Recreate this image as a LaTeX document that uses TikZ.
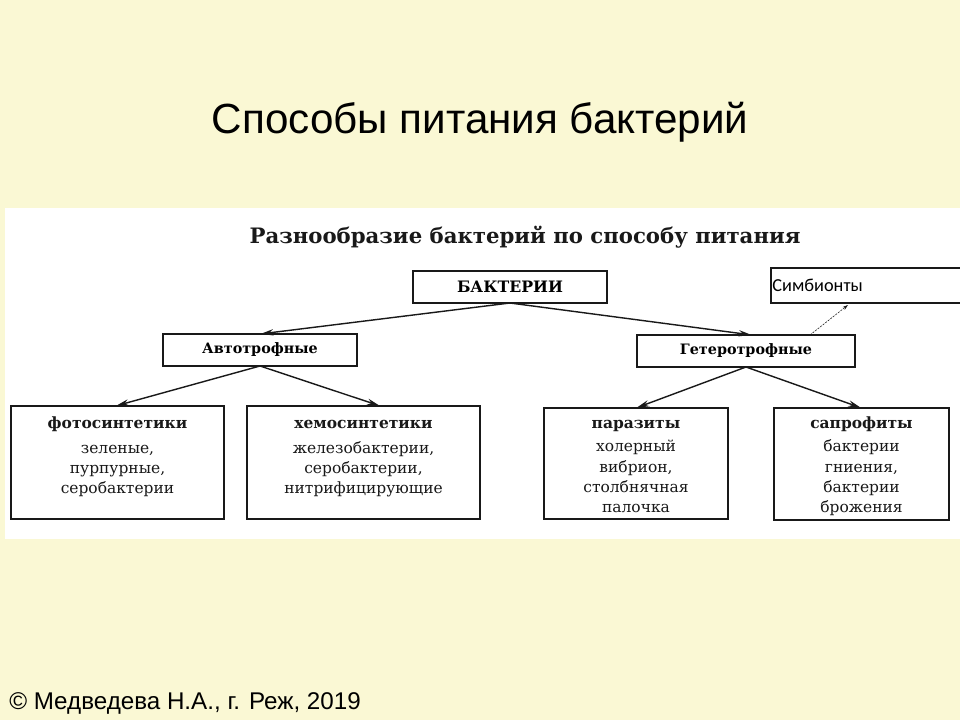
\documentclass[tikz,border=0pt]{standalone}
\usepackage{fontspec}
\setmainfont{DejaVu Serif}
\newfontfamily\titlefont{Liberation Sans}
\newfontfamily\notefont{Carlito}
\usetikzlibrary{arrows.meta,positioning}
\definecolor{slidebg}{RGB}{250,248,212}
\definecolor{inkblack}{RGB}{25,25,25}

\begin{document}
\begin{tikzpicture}[x=0.025cm, y=-0.025cm,
  box/.style={draw=inkblack, line width=1.2pt, fill=white, inner sep=0pt, outer sep=0pt},
  boxtext/.style={align=center, inner sep=0pt, text=inkblack, font=\fontsize{11}{14.5}\selectfont},
  link/.style={-{Stealth[length=9pt,width=4.5pt]}, inkblack, line width=1pt, shorten >=0.5pt},
  hint/.style={-{Stealth[length=4pt,width=2.5pt]}, inkblack, line width=0.4pt, dash pattern=on 1.5pt off 0.8pt}]
% Background and scanned panel
\fill[slidebg] (0,0) rectangle (960,720);
\useasboundingbox (0,0) rectangle (960,720);
\fill[white] (5,208) rectangle (962,539);
% Titles
\node[font=\titlefont\fontsize{30}{34}\selectfont, text=black] (title) at (480,122) {Способы питания бактерий};
\node[font=\bfseries\fontsize{15.1}{18}\selectfont, text=inkblack] (subtitle) at (525,237) {Разнообразие бактерий по способу питания};
% Upper boxes
\node[box, minimum width=4.85cm, minimum height=0.8cm, font=\bfseries\fontsize{11.2}{13}\selectfont] (bact) at (510,287) {БАКТЕРИИ};
\node[box, minimum width=4.85cm, minimum height=0.8cm, font=\bfseries\fontsize{10.2}{12}\selectfont] (auto) at (260,350) {Автотрофные};
\node[box, minimum width=5.45cm, minimum height=0.8cm, font=\bfseries\fontsize{10.2}{12}\selectfont] (hetero) at (746,351) {Гетеротрофные};
\node[box, minimum width=4.775cm, minimum height=0.875cm, text width=4.7cm, align=left, inner xsep=1pt, font=\notefont\fontsize{13}{15}\selectfont] (sym) at (866.5,285.5) {Симбионты};
% Lower boxes
\node[box, minimum width=5.325cm, minimum height=2.825cm] (foto) at (117.5,462.5) {};
\node[box, minimum width=5.825cm, minimum height=2.825cm] (chemo) at (363.5,462.5) {};
\node[box, minimum width=4.6cm, minimum height=2.775cm] (paras) at (636,463.5) {};
\node[box, minimum width=4.375cm, minimum height=2.8cm] (sapro) at (861.5,464) {};
\node[boxtext, below=0.2cm of foto.north] (foto-t)
  {\strut\bfseries фотосинтетики\\[3pt]\mdseries зеленые,\\ пурпурные,\\ серобактерии};
\node[boxtext, below=0.2cm of chemo.north] (chemo-t)
  {\strut\bfseries хемосинтетики\\[3pt]\mdseries железобактерии,\\ серобактерии,\\ нитрифицирующие};
\node[boxtext, below=0.15cm of paras.north] (paras-t)
  {\strut\bfseries паразиты\\[2pt]\mdseries холерный\\ вибрион,\\ столбнячная\\ палочка};
\node[boxtext, below=0.15cm of sapro.north] (sapro-t)
  {\strut\bfseries сапрофиты\\[2pt]\mdseries бактерии\\ гниения,\\ бактерии\\ брожения};
% Arrows
\draw[link] (bact.south) -- (auto.north);
\draw[link] (bact.south) -- ([xshift=0.15cm]hetero.north);
\draw[link] (auto.south) -- ([xshift=-0.05cm]foto.north);
\draw[link] (auto.south) -- ([xshift=0.42cm]chemo.north);
\draw[link] (hetero.south) -- (paras.north);
\draw[link] (hetero.south) -- (sapro.north);
\coordinate (symtip) at (848,305);
\draw[hint] ([xshift=1.6cm]hetero.north) -- (symtip);
% Author note
\node[font=\titlefont\fontsize{17.2}{20}\selectfont, text=black, anchor=base west, inner sep=0pt] (note) at (9,709) {© Медведева Н.А., г. Реж, 2019};
\end{tikzpicture}
\end{document}
